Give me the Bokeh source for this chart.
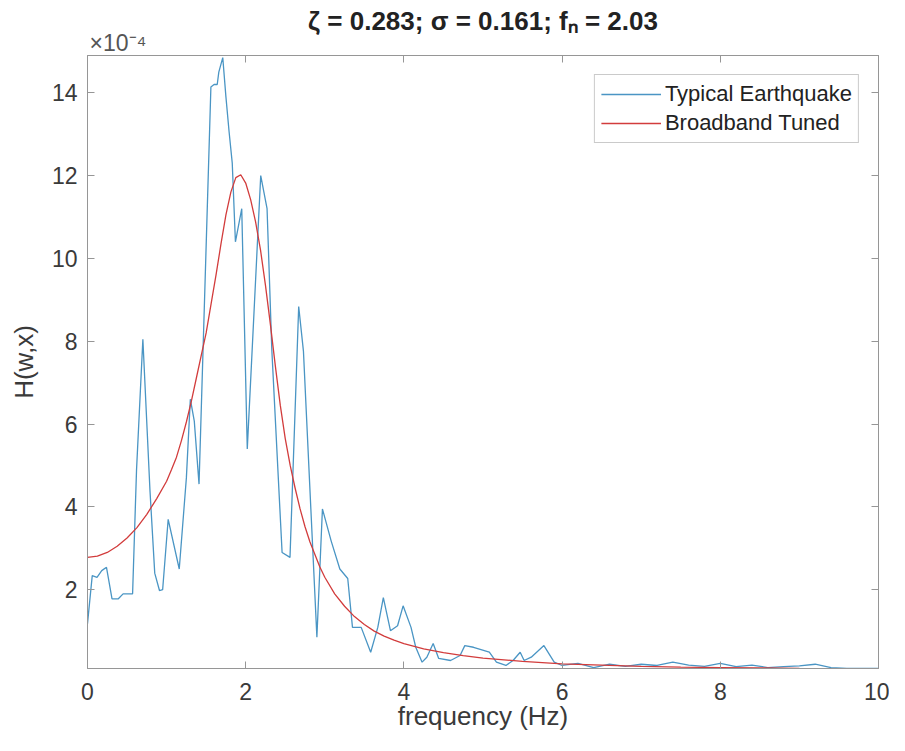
from bokeh.plotting import figure
from bokeh.models import Range1d, LinearAxis, Legend, LegendItem, Title, FixedTicker, ColumnDataSource
from bokeh.embed import file_html
from bokeh.resources import INLINE

# ---- data (values in units of 1e-4) ----
freq_eq = [0.00, 0.06, 0.12, 0.18, 0.24, 0.31, 0.39, 0.45, 0.57, 0.62, 0.70, 0.79, 0.85, 0.91,
           0.95, 1.02, 1.16, 1.25, 1.30, 1.35, 1.41, 1.56, 1.60, 1.64, 1.66, 1.71, 1.75, 1.79,
           1.83, 1.87, 1.95, 2.02, 2.19, 2.23, 2.27, 2.33, 2.46, 2.56, 2.67, 2.73, 2.90, 2.97,
           3.08, 3.19, 3.29, 3.35, 3.46, 3.58, 3.67, 3.74, 3.83, 3.92, 3.99, 4.09, 4.15, 4.23,
           4.29, 4.37, 4.44, 4.59, 4.71, 4.77, 4.88, 5.08, 5.17, 5.29, 5.38, 5.47, 5.52, 5.61,
           5.77, 5.90, 6.00, 6.20, 6.40, 6.60, 6.80, 7.00, 7.20, 7.40, 7.60, 7.80, 8.00, 8.20,
           8.40, 8.60, 8.80, 9.00, 9.20, 9.40, 9.60, 9.80, 10.00]
h_eq = [1.18, 2.34, 2.30, 2.46, 2.54, 1.78, 1.78, 1.90, 1.90, 4.90, 8.05, 4.39, 2.40, 1.98,
        2.00, 3.70, 2.50, 4.70, 6.60, 6.07, 4.55, 14.14, 14.20, 14.20, 14.50, 14.85, 13.90, 13.06,
        12.30, 10.40, 11.20, 5.40, 12.00, 11.60, 11.20, 7.80, 2.90, 2.78, 8.84, 7.76, 0.85, 3.95,
        3.18, 2.50, 2.27, 1.09, 1.09, 0.49, 1.09, 1.81, 1.01, 1.13, 1.61, 1.09, 0.61, 0.25,
        0.37, 0.70, 0.34, 0.29, 0.41, 0.65, 0.61, 0.49, 0.25, 0.17, 0.29, 0.49, 0.29, 0.37,
        0.65, 0.25, 0.17, 0.22, 0.12, 0.20, 0.15, 0.20, 0.17, 0.25, 0.18, 0.15, 0.22, 0.14,
        0.18, 0.12, 0.14, 0.16, 0.20, 0.12, 0.10, 0.10, 0.10]

freq_bb = [0.0, 0.125, 0.25, 0.375, 0.5, 0.625, 0.75, 0.875, 1.0, 1.0625, 1.125, 1.1875, 1.25,
           1.3125, 1.375, 1.4375, 1.5, 1.5625, 1.625, 1.6875, 1.75, 1.8125, 1.875, 1.9375, 2.0,
           2.0625, 2.125, 2.1875, 2.25, 2.3125, 2.375, 2.4375, 2.5, 2.5625, 2.625, 2.6875, 2.75,
           2.8125, 2.875, 2.9375, 3.0, 3.125, 3.25, 3.375, 3.5, 3.625, 3.75, 3.875, 4.0, 4.25,
           4.5, 4.75, 5.0, 5.5, 6.0, 6.5, 7.0, 7.5, 8.0, 8.5, 9.0, 9.5, 10.0]
h_bb = [2.78, 2.81, 2.90, 3.05, 3.25, 3.50, 3.82, 4.20, 4.62, 4.90, 5.20, 5.60, 6.05,
        6.55, 7.10, 7.65, 8.20, 8.90, 9.60, 10.35, 11.05, 11.60, 11.95, 12.02, 11.82,
        11.42, 10.88, 10.20, 9.35, 8.40, 7.40, 6.45, 5.65, 5.00, 4.45, 3.95, 3.52,
        3.15, 2.85, 2.55, 2.30, 1.90, 1.60, 1.35, 1.16, 1.00, 0.88, 0.78, 0.70, 0.57,
        0.48, 0.41, 0.35, 0.27, 0.21, 0.18, 0.15, 0.13, 0.12, 0.11, 0.10, 0.095, 0.09]

x_ticks = [0, 2, 4, 6, 8, 10]
y_ticks = [2, 4, 6, 8, 10, 12, 14]

title_text = "ζ = 0.283; σ = 0.161; fₙ = 2.03"
exponent_text = "×10⁻⁴"
x_label = "frequency (Hz)"
y_label = "H(w,x)"
series_names = ["Typical Earthquake", "Broadband Tuned"]

FONT = "Liberation Sans"
AX_COL = "#969696"
TXT_COL = "#3a3a3a"

p = figure(width=889, height=735, output_backend="svg", toolbar_location=None,
           x_range=Range1d(0, 10), y_range=Range1d(0.097, 14.9),
           min_border_left=87, min_border_right=11, min_border_top=55, min_border_bottom=67,
           background_fill_color="white", border_fill_color="white")
p.grid.visible = False
p.outline_line_color = AX_COL
p.outline_line_width = 1

p.title.text = title_text
p.title.align = "center"
p.title.text_font = FONT
p.title.text_font_style = "bold"
p.title.text_font_size = "26px"
p.title.text_color = "#222222"
p.title.standoff = -16

for ax, ticks in ((p.xaxis[0], x_ticks), (p.yaxis[0], y_ticks)):
    ax.ticker = FixedTicker(ticks=ticks)
    ax.major_tick_in = 7
    ax.major_tick_out = 0
    ax.minor_tick_line_color = None
    ax.axis_line_color = AX_COL
    ax.major_tick_line_color = AX_COL
    ax.major_label_text_font = FONT
    ax.major_label_text_font_size = "23px"
    ax.major_label_text_color = TXT_COL
    ax.axis_label_text_font = FONT
    ax.axis_label_text_font_style = "normal"
    ax.axis_label_text_color = TXT_COL

p.xaxis[0].axis_label = x_label
p.yaxis[0].axis_label = y_label
p.xaxis[0].axis_label_text_font_size = "26px"
p.yaxis[0].axis_label_text_font_size = "26px"
p.xaxis[0].major_label_standoff = 14
p.yaxis[0].major_label_standoff = 10
p.xaxis[0].axis_label_standoff = -2
p.yaxis[0].axis_label_standoff = 10

for loc, ticks in (("above", x_ticks), ("right", y_ticks)):
    ax = LinearAxis(ticker=FixedTicker(ticks=ticks), major_label_text_font_size="0px",
                    major_label_text_color=None,
                    major_tick_in=7, major_tick_out=0, minor_tick_line_color=None,
                    axis_line_color=AX_COL, major_tick_line_color=AX_COL,
                    major_label_standoff=0)
    p.add_layout(ax, loc)

p.add_layout(Title(text=exponent_text, align="left", text_font=FONT, text_font_style="normal",
                   text_font_size="23px", text_color="#555555", standoff=0, offset=2), "above")

src_eq = ColumnDataSource(dict(x=freq_eq, y=h_eq))
src_bb = ColumnDataSource(dict(x=freq_bb, y=h_bb))
r_eq = p.line("x", "y", source=src_eq, line_color="#4a95c4", line_width=1.3)
r_bb = p.line("x", "y", source=src_bb, line_color="#d23c3c", line_width=1.3)

legend = Legend(items=[LegendItem(label=series_names[0], renderers=[r_eq]),
                       LegendItem(label=series_names[1], renderers=[r_bb])],
                location="top_right", margin=19, padding=6, spacing=3,
                glyph_width=60, glyph_height=20, label_standoff=4,
                label_text_font=FONT, label_text_font_size="22px", label_text_color="#222222",
                border_line_color=AX_COL, border_line_width=1, background_fill_alpha=1.0)
p.add_layout(legend)

open("out.html", "w").write(file_html(p, INLINE))
